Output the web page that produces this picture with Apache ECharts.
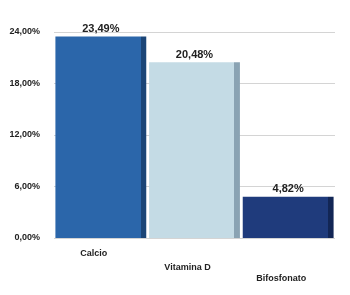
<!DOCTYPE html>
<html><head><meta charset="utf-8">
<script src="https://cdn.jsdelivr.net/npm/echarts@6/dist/echarts.min.js"></script>
<style>html,body{margin:0;padding:0;background:#fff}#c{width:350px;height:295px}</style>
</head><body><div id="c"></div>
<script>
var categories = ['Calcio', 'Vitamina D', 'Bifosfonato'];
var values = [23.49, 20.48, 4.82];
var yTicks = [0, 6, 12, 18, 24];
var faceColors = ['#2B66AA', '#C4DBE5', '#1F3B7C'];
var sideColors = ['#1B4577', '#8AA3B3', '#122655'];

function pct(v){ return v.toFixed(2).replace('.', ',') + '%'; }

var base = { fontSize: 9, color: '#222', fontWeight: 'bold', fontFamily: 'Liberation Sans' };
function rs(top){ return Object.assign({ padding: [top, 14, 0, 0] }, base); }

var chart = echarts.init(document.getElementById('c'));
chart.setOption({
  animation: false,
  grid: { left: 54, right: 15, top: 32, bottom: 57 },
  xAxis: {
    type: 'category', data: categories,
    axisLine: { show: false }, axisTick: { show: false },
    axisLabel: {
      interval: 0, margin: 11,
      formatter: function(v, i){ return '{s' + i + '|' + v + '}'; },
      rich: { s0: rs(0), s1: rs(14), s2: rs(25) }
    }
  },
  yAxis: {
    type: 'value', min: 0, max: 24, interval: 6,
    axisLine: { show: false }, axisTick: { show: false },
    splitLine: { lineStyle: { color: '#d4d4d4', width: 1 } },
    axisLabel: { fontSize: 9, color: '#222', fontWeight: 'bold', fontFamily: 'Liberation Sans', margin: 14,
      formatter: function(v){ return pct(v); } }
  },
  series: [{
    type: 'bar',
    barCategoryGap: '3%',
    data: values.map(function(v, i){
      return { value: v, itemStyle: { color: new echarts.graphic.LinearGradient(0, 0, 1, 0, [
        { offset: 0, color: faceColors[i] }, { offset: 0.94, color: faceColors[i] },
        { offset: 0.94, color: sideColors[i] }, { offset: 1, color: sideColors[i] }
      ]) } };
    }),
    label: { show: true, position: 'top', distance: 2, fontSize: 11, fontWeight: 'bold', color: '#222',
      fontFamily: 'Liberation Sans', formatter: function(p){ return pct(p.value); } }
  }]
});
</script></body></html>
